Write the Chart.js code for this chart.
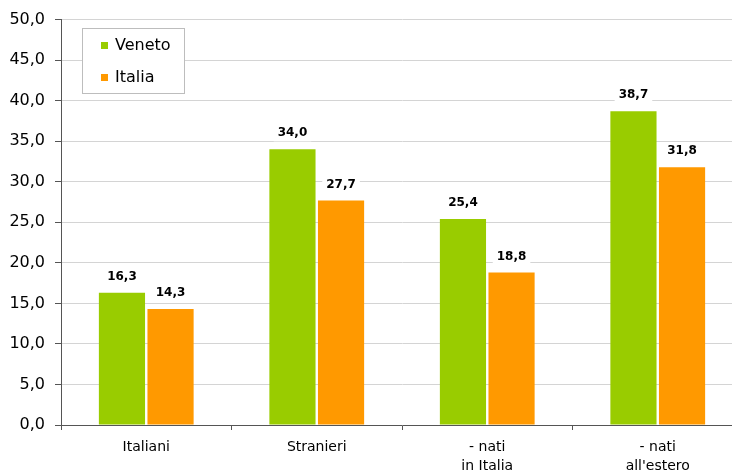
<!DOCTYPE html>
<html>
<head>
<meta charset="utf-8">
<script src="https://cdn.jsdelivr.net/npm/chart.js@4"></script>
<style>
html, body { margin: 0; padding: 0; overflow: hidden; background: #fff; }
</style>
</head>
<body>
<canvas id="chart" width="744" height="474"></canvas>
<script>
const categories = ['Italiani', 'Stranieri', ['- nati', 'in Italia'], ['- nati', "all'estero"]];
const veneto = [16.3, 34.0, 25.4, 38.7];
const italia = [14.3, 27.7, 18.8, 31.8];
const yTicks = [0, 5, 10, 15, 20, 25, 30, 35, 40, 45, 50];

const fmt = v => v.toFixed(1).replace('.', ',');

Chart.defaults.font.family = "'DejaVu Sans', Verdana, sans-serif";
Chart.defaults.color = '#000';

// value labels on white boxes above the bars
const barLabels = {
    id: 'barLabels',
    afterDatasetsDraw(chart) {
        const ctx = chart.ctx;
        ctx.save();
        ctx.font = "bold 12px 'DejaVu Sans', Verdana, sans-serif";
        ctx.textAlign = 'center';
        ctx.textBaseline = 'middle';
        chart.data.datasets.forEach((ds, i) => {
            chart.getDatasetMeta(i).data.forEach((bar, j) => {
                const txt = fmt(ds.data[j]);
                const w = ctx.measureText(txt).width;
                const y = bar.y - 16;
                ctx.fillStyle = '#fff';
                ctx.fillRect(bar.x - w / 2 - 4, y - 8, w + 8, 16);
                ctx.fillStyle = '#000';
                ctx.fillText(txt, bar.x, y);
            });
        });
        ctx.restore();
    }
};

// boxed legend inside the plot
const boxLegend = {
    id: 'boxLegend',
    afterDraw(chart) {
        const ctx = chart.ctx;
        ctx.save();
        ctx.fillStyle = '#fff';
        ctx.fillRect(82, 28, 102, 65);
        ctx.strokeStyle = '#bdbdbd';
        ctx.lineWidth = 1;
        ctx.strokeRect(82.5, 28.5, 102, 65);
        ctx.font = "16px 'DejaVu Sans', Verdana, sans-serif";
        ctx.textBaseline = 'middle';
        chart.data.datasets.forEach((ds, i) => {
            ctx.fillStyle = ds.backgroundColor;
            ctx.fillRect(101, 42 + i * 32, 7, 7);
            ctx.fillStyle = '#000';
            ctx.fillText(ds.label, 115, 46 + i * 32);
        });
        ctx.restore();
    }
};

new Chart(document.getElementById('chart'), {
    type: 'bar',
    data: {
        labels: categories,
        datasets: [
            { label: 'Veneto', data: veneto, backgroundColor: '#99cc00' },
            { label: 'Italia', data: italia, backgroundColor: '#ff9900' }
        ]
    },
    options: {
        responsive: false,
        animation: false,
        categoryPercentage: 0.57,
        barPercentage: 0.95,
        layout: { padding: { top: 18, right: 1, left: 0, bottom: 0 } },
        plugins: {
            legend: { display: false },
            tooltip: { enabled: false }
        },
        scales: {
            x: {
                grid: { drawOnChartArea: false, tickLength: 5, tickColor: '#555' },
                border: { color: '#555' },
                ticks: { font: { size: 14, lineHeight: 1.36 }, padding: 8 },
                afterFit(scale) { scale.height = 49; }
            },
            y: {
                min: 0,
                max: 50,
                afterBuildTicks(scale) { scale.ticks = yTicks.map(v => ({ value: v })); },
                grid: { color: '#d4d4d4', tickLength: 6, tickColor: '#555' },
                border: { color: '#555' },
                ticks: { font: { size: 16 }, padding: 10, callback: v => fmt(v) },
                afterFit(scale) { scale.width = 61; }
            }
        }
    },
    plugins: [barLabels, boxLegend]
});
</script>
</body>
</html>
